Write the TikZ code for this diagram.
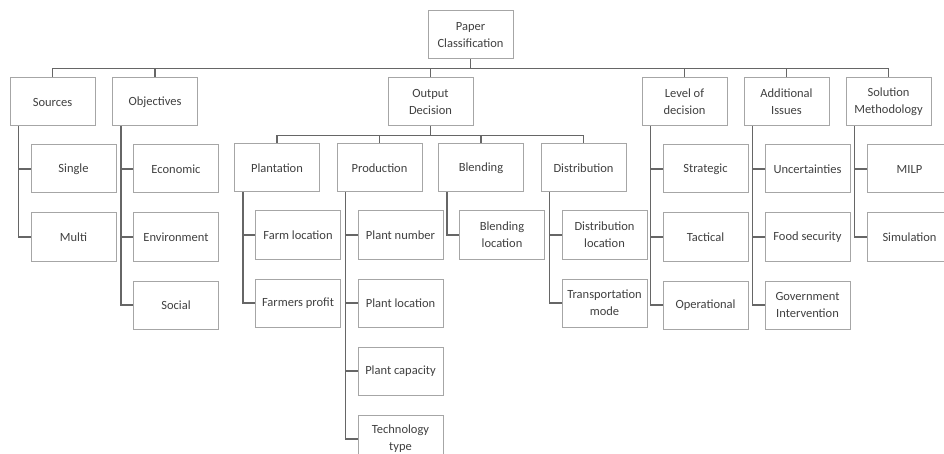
\documentclass[tikz,border=0pt]{standalone}
\usepackage{fontspec}
\setmainfont{Carlito}
\usetikzlibrary{positioning}

\begin{document}
\begin{tikzpicture}[x=1pt, y=-1pt,
        box/.style={draw=gray!70, line width=1pt, rectangle, align=center, minimum width=85pt, minimum height=48pt, inner sep=1pt, fill=white, text=black!75, font=\fontsize{12.5}{17}\selectfont},
        leaf/.style={box, anchor=north west},
        link/.style={draw=black!60, line width=1.5pt}
    ]
    \useasboundingbox (0,0) rectangle (944,454);
    \node[box] (paper) at (470.5,35) {Paper\\Classification};

    \node[box] (sources) at (52.5,102) {Sources};
    \node[box] (objectives) at (155,102) {Objectives};
    \node[box] (output) at (430.5,102) {Output\\Decision};
    \node[box] (level) at (684.5,102) {Level of\\decision};
    \node[box] (issues) at (786.5,102) {Additional\\Issues};
    \node[box] (method) at (888.5,102) {Solution\\Methodology};

    \node[box] (plantation) at (277,168) {Plantation};
    \node[box] (production) at (379.5,168) {Production};
    \node[box] (blending) at (481,168) {Blending};
    \node[box] (distribution) at (583.5,168) {Distribution};

    \node[leaf] (single) at ([xshift=21pt, yshift=-18pt]sources.south west) {Single};
    \node[box, below=19pt of single] (multi) {Multi};

    \node[leaf] (economic) at ([xshift=21pt, yshift=-18pt]objectives.south west) {Economic};
    \node[box, below=19pt of economic] (environment) {Environment};
    \node[box, below=19pt of environment] (social) {Social};

    \node[leaf] (farmloc) at ([xshift=21pt, yshift=-18pt]plantation.south west) {Farm location};
    \node[box, below=19pt of farmloc] (profit) {Farmers profit};

    \node[leaf] (plantnum) at ([xshift=21pt, yshift=-18pt]production.south west) {Plant number};
    \node[box, below=19pt of plantnum] (plantloc) {Plant location};
    \node[box, below=19pt of plantloc] (plantcap) {Plant capacity};
    \node[box, below=19pt of plantcap] (techtype) {Technology\\type};

    \node[leaf] (blendloc) at ([xshift=21pt, yshift=-18pt]blending.south west) {Blending\\location};

    \node[leaf] (distloc) at ([xshift=21pt, yshift=-18pt]distribution.south west) {Distribution\\location};
    \node[box, below=19pt of distloc] (transport) {Transportation\\mode};

    \node[leaf] (strategic) at ([xshift=21pt, yshift=-18pt]level.south west) {Strategic};
    \node[box, below=19pt of strategic] (tactical) {Tactical};
    \node[box, below=19pt of tactical] (operational) {Operational};

    \node[leaf] (uncertain) at ([xshift=21pt, yshift=-18pt]issues.south west) {Uncertainties};
    \node[box, below=19pt of uncertain] (food) {Food security};
    \node[box, below=19pt of food] (government) {Government\\Intervention};

    \node[leaf] (milp) at ([xshift=21pt, yshift=-18pt]method.south west) {MILP};
    \node[box, below=19pt of milp] (simulation) {Simulation};

    % top level bus
    \coordinate[below=9pt of paper.south] (bus);
    \foreach \n in {sources, objectives, output, level, issues, method}
        \draw[link] (paper.south) -- (bus) -| (\n.north);

    % output decision bus
    \coordinate[below=9pt of output.south] (outbus);
    \foreach \n in {plantation, production, blending, distribution}
        \draw[link] (output.south) -- (outbus) -| (\n.north);

    % spines
    \draw[link] ([xshift=9pt]sources.south west) |- (single.west);
    \draw[link] ([xshift=9pt]sources.south west) |- (multi.west);
    \draw[link] ([xshift=9pt]objectives.south west) |- (economic.west);
    \draw[link] ([xshift=9pt]objectives.south west) |- (environment.west);
    \draw[link] ([xshift=9pt]objectives.south west) |- (social.west);
    \draw[link] ([xshift=9pt]plantation.south west) |- (farmloc.west);
    \draw[link] ([xshift=9pt]plantation.south west) |- (profit.west);
    \draw[link] ([xshift=9pt]production.south west) |- (plantnum.west);
    \draw[link] ([xshift=9pt]production.south west) |- (plantloc.west);
    \draw[link] ([xshift=9pt]production.south west) |- (plantcap.west);
    \draw[link] ([xshift=9pt]production.south west) |- (techtype.west);
    \draw[link] ([xshift=9pt]blending.south west) |- (blendloc.west);
    \draw[link] ([xshift=9pt]distribution.south west) |- (distloc.west);
    \draw[link] ([xshift=9pt]distribution.south west) |- (transport.west);
    \draw[link] ([xshift=9pt]level.south west) |- (strategic.west);
    \draw[link] ([xshift=9pt]level.south west) |- (tactical.west);
    \draw[link] ([xshift=9pt]level.south west) |- (operational.west);
    \draw[link] ([xshift=9pt]issues.south west) |- (uncertain.west);
    \draw[link] ([xshift=9pt]issues.south west) |- (food.west);
    \draw[link] ([xshift=9pt]issues.south west) |- (government.west);
    \draw[link] ([xshift=9pt]method.south west) |- (milp.west);
    \draw[link] ([xshift=9pt]method.south west) |- (simulation.west);
\end{tikzpicture}
\end{document}
